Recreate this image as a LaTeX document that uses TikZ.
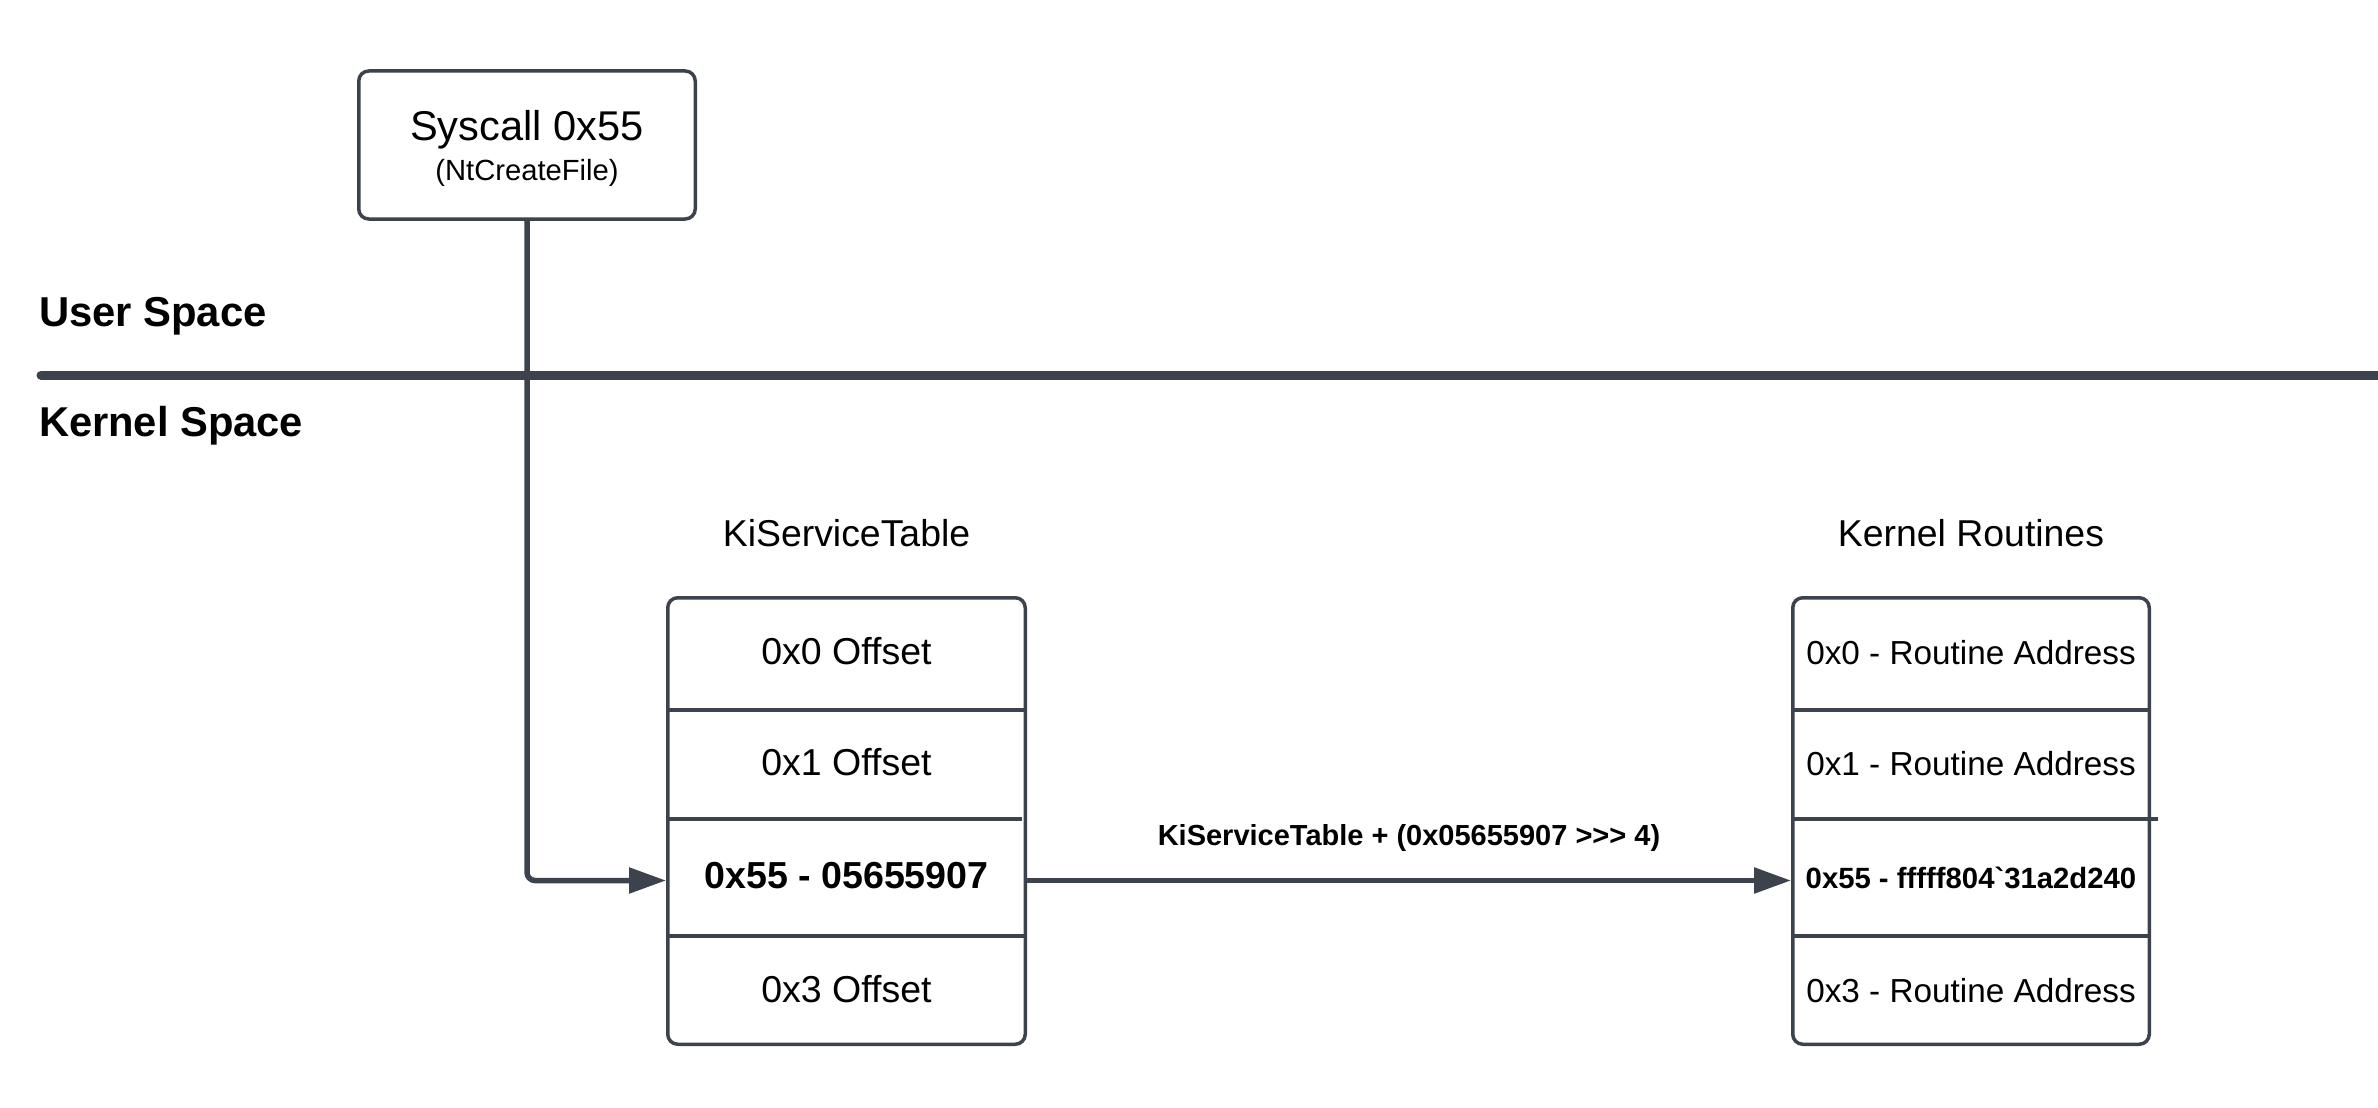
\documentclass[tikz,border=0pt]{standalone}
\usepackage{fontspec}
\newfontfamily\lsans{Liberation Sans}
\usetikzlibrary{arrows.meta}
\definecolor{lc}{HTML}{3D434C}
\newcommand{\fsz}[1]{\fontsize{#1}{#1}\selectfont}
\begin{document}
\begin{tikzpicture}[x=1pt,y=-1pt,
  box/.style={draw=lc, line width=3.5pt, rounded corners=10pt, fill=white},
  tbl/.style={draw=lc, line width=3.5pt, rounded corners=10pt},
  rowbase/.style={inner sep=0pt, outer sep=0pt, text height=22pt, text depth=0pt},
  rowL/.style={rowbase, minimum width=361pt, font=\fsz{37.5}},
  rowR/.style={rowbase, minimum width=360pt, font=\fsz{33.3}},
  div/.style={draw=lc, line width=3.5pt},
  conn/.style={draw=lc, line width=5.5pt, rounded corners=8pt, -{Triangle[length=37pt,width=25pt]}},
  lbl/.style={inner sep=0pt, outer sep=0pt},
  title/.style={inner sep=0pt, font=\fsz{37.4}}
]
\lsans
\useasboundingbox (0,0) rectangle (2378,1108);

% user / kernel divider
\draw[lc, line width=9pt, line cap=round] (41,375) -- (2385,375);
\node[lbl, anchor=base west, font=\bfseries\fsz{41.8}] (user) at (39,326.5) {User Space};
\node[lbl, anchor=base west, font=\bfseries\fsz{41.7}] (kern) at (39,436) {Kernel Space};

% syscall box
\node[box, minimum width=336.5pt, minimum height=148pt] (sys) at (527,145) {};
\node[lbl, anchor=base, font=\fsz{41.6}] (sysA) at (527,140) {Syscall 0x55};
\node[lbl, anchor=base, font=\fsz{29.2}] (sysB) at (527,180) {(NtCreateFile)};

% KiServiceTable
\node[title] (t1t) at (846.5,533) {KiServiceTable};
\node[tbl, minimum width=357.5pt, minimum height=446.5pt] (t1) at (846.5,821) {};
\node[rowL, minimum height=114pt] (t1r1) at (846.5,653) {0x0 Offset};
\node[rowL, minimum height=109pt] (t1r2) at (846.5,764.5) {0x1 Offset};
\node[rowL, minimum height=117pt, font=\bfseries\fsz{37.6}] (t1r3) at (846.5,877.5) {0x55 - 05655907};
\node[rowL, minimum height=110pt] (t1r4) at (846.5,991) {0x3 Offset};
\draw[div] (t1r1.south west) -- (t1r1.south east);
\draw[div] (t1r2.south west) -- ([xshift=-5pt]t1r2.south east);
\draw[div] (t1r3.south west) -- (t1r3.south east);

% Kernel Routines
\node[title] (t2t) at (1971,533) {Kernel Routines};
\node[tbl, minimum width=356.5pt, minimum height=446.5pt] (t2) at (1971,821) {};
\node[rowR, minimum height=114pt] (t2r1) at (1971,653) {0x0 - Routine Address};
\node[rowR, minimum height=109pt] (t2r2) at (1971,764.5) {0x1 - Routine Address};
\node[rowR, minimum height=117pt, font=\bfseries\fsz{29.3}] (t2r3) at (1971,877.5) {0x55 - fffff804`31a2d240};
\node[rowR, minimum height=110pt] (t2r4) at (1971,991) {0x3 - Routine Address};
\draw[div] (t2r1.south west) -- (t2r1.south east);
\draw[div] (t2r2.south west) -- ([xshift=7pt]t2r2.south east);
\draw[div] (t2r3.south west) -- (t2r3.south east);

% connectors
\draw[conn] (sys.south) |- ([yshift=-3pt]t1r3.west);
\draw[conn] ([yshift=-3pt]t1r3.east) -- ([yshift=-3pt]t2r3.west);
\node[lbl, anchor=base, font=\bfseries\fsz{29}] (lab) at (1409,845) {KiServiceTable + (0x05655907 >>> 4)};
\end{tikzpicture}
\end{document}
